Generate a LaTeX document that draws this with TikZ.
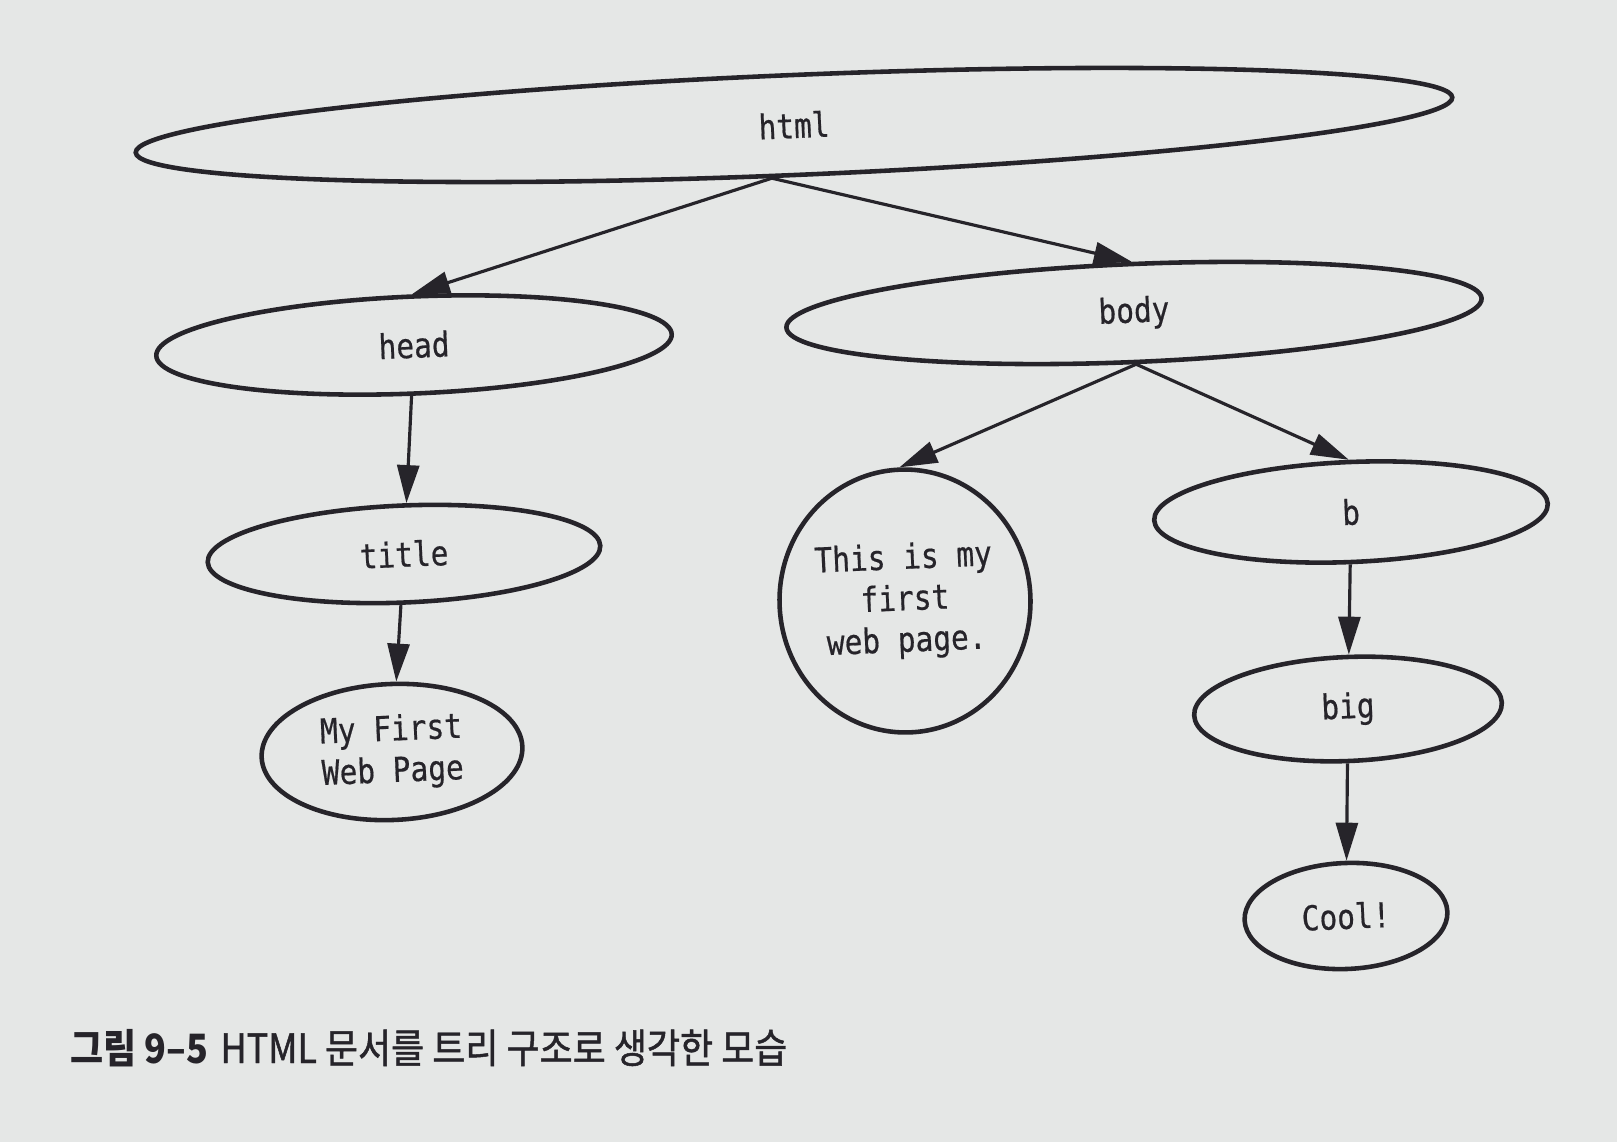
\documentclass[tikz,border=0pt]{standalone}
\usepackage{fontspec}
\usetikzlibrary{shapes.geometric,arrows.meta}
\newfontfamily\tagfont{DejaVu Sans Mono}[FakeStretch=0.86, FakeBold=0.5]
\newfontfamily\capfont{Noto Sans CJK KR}[FakeStretch=0.89, FakeBold=1.2]
\newfontfamily\caplabel{Noto Sans CJK KR}[FakeStretch=0.89]
\definecolor{ink}{RGB}{38,36,42}
\definecolor{paper}{RGB}{229,231,230}
\tikzset{
  tag/.style={draw=ink, ellipse, line width=2.6pt, inner sep=0pt, align=center,
    text=ink, rotate=2.4, font={\tagfont\fontsize{19.5}{23.6}\selectfont}},
  link/.style={draw=ink, line width=1.8pt, -{Triangle[length=0.76cm,width=0.44cm]}}
}
\begin{document}
\begin{tikzpicture}[x=0.02cm,y=-0.02cm]
\fill[paper] (0,0) rectangle (1617,1142);

\node[tag, minimum width=26.36cm, minimum height=2.0cm] (html) at (794,125) {html};
\node[tag, minimum width=10.32cm, minimum height=1.94cm] (head) at (414,345) {head};
\node[tag, minimum width=13.92cm, minimum height=1.96cm] (body) at (1134,313) {body};
\node[tag, minimum width=7.86cm, minimum height=1.94cm] (title) at (404,554) {title};
\node[tag, minimum width=5.22cm, minimum height=2.72cm] (myfirst) at (392,752) {My First\\Web Page};
\node[tag, minimum width=5.02cm, minimum height=5.26cm] (text) at (905,601) {This is my\\first\\web page.};
\node[tag, minimum width=7.88cm, minimum height=2.0cm] (b) at (1351,512) {b};
\node[tag, minimum width=6.16cm, minimum height=2.08cm] (big) at (1348,709) {big};
\node[tag, minimum width=4.06cm, minimum height=2.12cm] (cool) at (1346,916) {Cool!};

\draw[link] (html.245) -- (head.north);
\draw[link] (html.245) -- (body.north);
\draw[link] (head) -- (title);
\draw[link] (title) -- (myfirst);
\draw[link] (body.south) -- (text.north);
\draw[link] (body.south) -- (b.north);
\draw[link] (b) -- (big);
\draw[link] (big) -- (cool);

\node[anchor=base west, inner sep=0pt, text=ink, font={\fontsize{23}{27}\selectfont}]
  (caption) at (70,1063) {{\caplabel\bfseries 그림 9–5} {\capfont HTML 문서를 트리 구조로 생각한 모습}};
\end{tikzpicture}
\end{document}
